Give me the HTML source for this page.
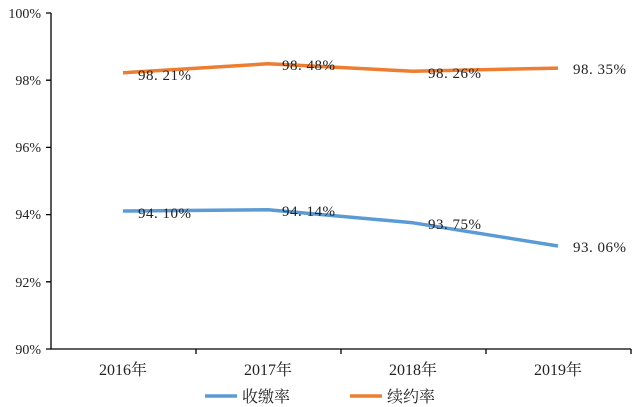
<!DOCTYPE html><html><head><style>body{margin:0;background:#fff}svg{display:block}text{font-family:"Liberation Serif","Noto Serif CJK SC",serif;fill:#222}</style></head><body>
<svg width="640" height="407" viewBox="0 0 640 407">
<g stroke="#000" stroke-width="1.3" fill="none">
<path d="M51 13V349H631"/>
<path d="M46 13H51M46 80.2H51M46 147.4H51M46 214.6H51M46 281.8H51M46 349H51"/>
<path d="M196 349V354M341 349V354M486 349V354M631 349V354"/>
</g>
<g font-size="14" text-anchor="end">
<text x="41" y="18">100%</text><text x="41" y="85">98%</text><text x="41" y="152">96%</text><text x="41" y="219">94%</text><text x="41" y="287">92%</text><text x="41" y="354">90%</text>
</g>
<g font-size="16" text-anchor="middle">
<text x="123" y="375">2016年</text><text x="268" y="375">2017年</text><text x="413" y="375">2018年</text><text x="558" y="375">2019年</text>
</g>
<polyline points="123,72.8 268,63.8 413,71.2 558,68.1" fill="none" stroke="#ED7D31" stroke-width="3.5" stroke-linejoin="round"/>
<polyline points="123,211 268,209.7 413,222.8 558,246" fill="none" stroke="#5B9BD5" stroke-width="3.5" stroke-linejoin="round"/>
<g font-size="15" letter-spacing="0.5">
<text x="138" y="80">98. 21%</text><text x="282" y="70">98. 48%</text><text x="428" y="78">98. 26%</text><text x="573" y="74">98. 35%</text>
<text x="138" y="218">94. 10%</text><text x="282" y="216">94. 14%</text><text x="428" y="229">93. 75%</text><text x="573" y="252">93. 06%</text>
</g>
<line x1="205" y1="396" x2="237" y2="396" stroke="#5B9BD5" stroke-width="3.5"/>
<text x="242" y="402" font-size="16">收缴率</text>
<line x1="350" y1="396" x2="382" y2="396" stroke="#ED7D31" stroke-width="3.5"/>
<text x="387" y="402" font-size="16">续约率</text>
</svg></body></html>
